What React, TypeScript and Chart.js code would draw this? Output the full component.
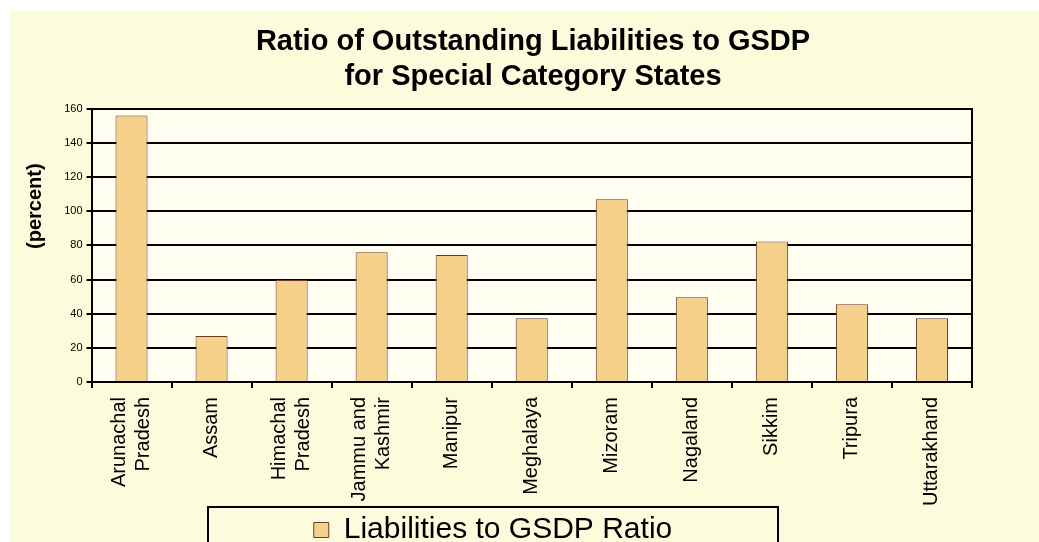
import React, { useEffect, useRef } from 'react';
import { Chart, registerables } from 'chart.js';

Chart.register(...registerables);

// ---- Data ----
const states: (string | string[])[] = [
  ['Arunachal', 'Pradesh'],
  'Assam',
  ['Himachal', 'Pradesh'],
  ['Jammu and', 'Kashmir'],
  'Manipur',
  'Meghalaya',
  'Mizoram',
  'Nagaland',
  'Sikkim',
  'Tripura',
  'Uttarakhand',
];
const ratioValues = [156, 27, 59.7, 76, 74.4, 37.3, 107, 49.6, 82.2, 45.5, 37.3];
const yMin = 0;
const yMax = 160;
const yStep = 20;
const titleLines = ['Ratio of Outstanding Liabilities to GSDP', 'for Special Category States'];
const seriesLabel = 'Liabilities to GSDP Ratio';
const yAxisTitle = '(percent)';

const FONT = "'Liberation Sans', Arial, Helvetica, sans-serif";
const PAGE_BG = '#FCFBDC';
const PLOT_BG = '#FFFEF0';
const BAR_FILL = '#F4D08A';
const BAR_EDGE = '#6B3B26';

const CANVAS_W = 1046;
const CANVAS_H = 544;

const decorPlugin = {
  id: 'decor',
  afterLayout(chart: any) {
    const lg = chart.legend;
    if (lg) {
      lg.left = 198;
      lg.right = 768;
      lg.width = 570;
    }
  },
  beforeDraw(chart: any) {
    const { ctx, chartArea } = chart;
    ctx.save();
    ctx.fillStyle = PLOT_BG;
    ctx.fillRect(chartArea.left, chartArea.top, chartArea.right - chartArea.left, chartArea.bottom - chartArea.top);
    ctx.restore();
    // center two-line rotated labels on their category
    const xs = chart.scales.x;
    if (xs) {
      const items = xs.getLabelItems();
      items.forEach((it: any) => {
        if (Array.isArray(it.label) && it.label.length === 2 && !it._shifted) {
          it.options.translation[0] -= 12.5;
          it._shifted = true;
        }
      });
    }
  },
  afterDraw(chart: any) {
    const { ctx, chartArea } = chart;
    ctx.save();
    // y axis title
    ctx.translate(chartArea.left - 56.5, chartArea.top + 97.5);
    ctx.rotate(-Math.PI / 2);
    ctx.font = `bold 20px ${FONT}`;
    ctx.fillStyle = '#000';
    ctx.textAlign = 'center';
    ctx.textBaseline = 'middle';
    ctx.fillText(yAxisTitle, 0, 0);
    ctx.restore();
    // legend frame
    const lg = chart.legend;
    if (lg) {
      ctx.save();
      ctx.strokeStyle = '#000';
      ctx.lineWidth = 2;
      ctx.strokeRect(lg.left, lg.top + 1, lg.right - lg.left, lg.bottom - lg.top + 30);
      ctx.restore();
    }
  },
};

export default function App() {
  const ref = useRef<HTMLCanvasElement | null>(null);

  useEffect(() => {
    document.body.style.margin = '0';
    const canvas = ref.current;
    if (!canvas) return;
    const chart = new Chart(canvas, {
      type: 'bar',
      data: {
        labels: states,
        datasets: [
          {
            label: seriesLabel,
            data: ratioValues,
            backgroundColor: BAR_FILL,
            borderColor: BAR_EDGE,
            borderWidth: 1,
            barPercentage: 0.4,
            categoryPercentage: 1.0,
          },
        ],
      },
      options: {
        responsive: false,
        animation: false,
        devicePixelRatio: 1,
        layout: { padding: 0 },
        font: { family: FONT },
        plugins: {
          tooltip: { enabled: false },
          title: {
            display: true,
            text: titleLines,
            color: '#000',
            font: { family: FONT, size: 29, weight: 'bold', lineHeight: 35 / 29 },
            padding: { top: 13, bottom: 14.7 },
          },
          legend: {
            display: true,
            position: 'bottom',
            labels: {
              color: '#000',
              font: { family: FONT, size: 30 },
              boxWidth: 15,
              boxHeight: 15,
              padding: 9,
            },
          },
        },
        scales: {
          x: {
            offset: true,
            grid: {
              offset: true,
              drawOnChartArea: false,
              drawTicks: true,
              tickLength: 6,
              color: '#000',
              lineWidth: 2,
            },
            border: { display: true, color: '#000', width: 2 },
            ticks: {
              color: '#000',
              font: { family: FONT, size: 20, lineHeight: 1.2 },
              minRotation: 90,
              maxRotation: 90,
              autoSkip: false,
              padding: 9,
            },
            afterFit: (s: any) => {
              s.height = 124;
            },
          },
          y: {
            min: yMin,
            max: yMax,
            ticks: {
              stepSize: yStep,
              color: '#000',
              font: { family: FONT, size: 11 },
              padding: 4,
            },
            grid: { color: '#000', lineWidth: 2, tickLength: 5, drawTicks: true },
            border: { display: true, color: '#000', width: 2 },
            afterFit: (s: any) => {
              s.width = 81.5;
            },
          },
          y2: {
            position: 'right',
            min: yMin,
            max: yMax,
            grid: { display: false, drawTicks: false },
            ticks: { display: false },
            border: { display: true, color: '#000', width: 2 },
            afterFit: (s: any) => {
              s.width = 84;
            },
          },
        },
      },
      plugins: [decorPlugin],
    });
    return () => chart.destroy();
  }, []);

  return (
    <div
      style={{
        position: 'relative',
        width: 1039,
        height: 542,
        overflow: 'hidden',
        background: '#fff',
      }}
    >
      <div
        style={{
          position: 'absolute',
          left: 10,
          top: 11,
          right: 0,
          bottom: 0,
          background: PAGE_BG,
        }}
      />
      <canvas
        ref={ref}
        width={CANVAS_W}
        height={CANVAS_H}
        style={{ position: 'absolute', left: 10, top: 11, width: CANVAS_W, height: CANVAS_H }}
      />
    </div>
  );
}
